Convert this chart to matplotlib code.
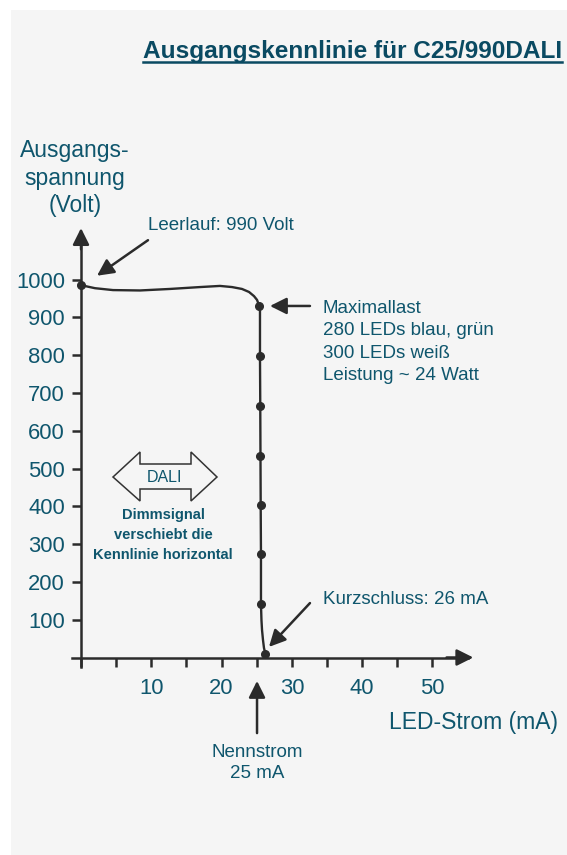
import matplotlib.pyplot as plt
from matplotlib.patches import Rectangle, Polygon
from matplotlib.lines import Line2D

# curve: LED current (mA) vs output voltage (V)
curve_I = [0, 1.99, 4.55, 8.39, 12.66, 16.93, 19.77, 21.48, 22.9, 23.9, 24.61,
           25.04, 25.32, 25.46, 25.46, 25.5, 25.53, 25.56, 25.6, 25.6, 25.67,
           25.75, 25.89, 26.03, 26.24]
curve_V = [985, 977, 972, 971, 975, 980, 983, 980, 975, 967, 956,
           946, 932, 919, 798, 665, 533, 403, 274, 142, 99,
           73, 46, 25, 9]
dot_I = [0, 25.35, 25.46, 25.5, 25.53, 25.56, 25.6, 25.6, 26.24]
dot_V = [985, 930, 797, 665, 533, 403, 274, 142, 9]

x_ticks = list(range(0, 55, 5))
x_labels = [str(t) if t % 10 == 0 and t > 0 else "" for t in x_ticks]
y_ticks = list(range(100, 1100, 100))
y_labels = [str(t) for t in y_ticks]

W, H = 567, 855
TEAL = "#0f566d"
TITLE = "#0a4a62"
AX = "#2b2b2b"
SANS = ["Liberation Sans", "DejaVu Sans"]

# pixel mapping of the axes (origin at 81,657.5)
x0, kx = 81, 7.03
y0, ky = 657.5, 0.378

fig = plt.figure(figsize=(W / 100, H / 100), dpi=100)
fig.patch.set_facecolor("white")
fig.add_artist(Rectangle((11 / W, 0), 1, 1 - 10 / H, transform=fig.transFigure,
                         facecolor="#f5f5f5", edgecolor="none", zorder=-5))

ax = fig.add_axes([0, 0, 1, 1])
ax.set_facecolor("none")
ax.set_xlim(-x0 / kx, (W - x0) / kx)
ax.set_ylim(-(H - y0) / ky, y0 / ky)
for s in ["top", "right"]:
    ax.spines[s].set_visible(False)
for s in ["left", "bottom"]:
    ax.spines[s].set_position(("data", 0))
    ax.spines[s].set_linewidth(1.8)
    ax.spines[s].set_color(AX)
ax.spines["left"].set_bounds(-25, 1120)
ax.spines["bottom"].set_bounds(-1.3, 55)

ax.set_xticks(x_ticks, x_labels)
ax.set_yticks(y_ticks, y_labels)
ax.tick_params(axis="x", direction="out", length=6.5, width=1.8, pad=8,
               labelsize=15.8, labelcolor=TEAL, color=AX)
ax.tick_params(axis="y", direction="out", length=6.5, width=1.8, pad=5,
               labelsize=15.8, labelcolor=TEAL, color=AX)
for lab in ax.get_xticklabels() + ax.get_yticklabels():
    lab.set_family(SANS)

head = dict(arrowstyle="-|>,head_length=0.5,head_width=0.25", mutation_scale=20,
            lw=1.8, color=AX, shrinkA=0, shrinkB=0)
ax.annotate("", xy=(55.8, 0), xytext=(52, 0), arrowprops=head)
ax.annotate("", xy=(0, 1136), xytext=(0, 1080), arrowprops=head)

ax.plot(curve_I, curve_V, color=AX, lw=1.7, solid_capstyle="round", zorder=3)
ax.plot(dot_I, dot_V, "o", ms=5.5, color=AX, zorder=4)

# pointer arrows
ax.annotate("", xy=(2.28, 1010), xytext=(9.53, 1104), arrowprops=head)
ax.annotate("", xy=(26.88, 930), xytext=(32.57, 930), arrowprops=head)
ax.annotate("", xy=(26.74, 28), xytext=(32.57, 144), arrowprops=head)
ax.annotate("", xy=(25.04, -62), xytext=(25.04, -200), arrowprops=head)


def txt(x, y, s, **kw):
    kw.setdefault("family", SANS)
    kw.setdefault("color", TEAL)
    kw.setdefault("va", "center")
    return fig.text(x / W, 1 - y / H, s, **kw)


t = txt(562, 58, "Ausgangskennlinie für C25/990DALI", ha="right", va="baseline",
        size=17.6, weight="bold", color=TITLE)
fig.canvas.draw()
bb = t.get_window_extent(fig.canvas.get_renderer())
fig.add_artist(Line2D([bb.x0 / W, bb.x1 / W], [1 - 62.5 / H] * 2, lw=1.8,
                      color=TITLE, transform=fig.transFigure))

txt(75, 178, "Ausgangs-\nspannung\n(Volt)", ha="center", size=16.5,
    linespacing=1.24, multialignment="center")
txt(558, 723, "LED-Strom (mA)", ha="right", size=16.5)
txt(148, 225, "Leerlauf: 990 Volt", ha="left", size=13.5)
txt(323, 342, "Maximallast\n280 LEDs blau, grün\n300 LEDs weiß\nLeistung ~ 24 Watt",
    ha="left", size=13.5, linespacing=1.39)
txt(323, 599, "Kurzschluss: 26 mA", ha="left", size=13.5)
txt(257, 763, "Nennstrom\n25 mA", ha="center", size=13.5, linespacing=1.33,
    multialignment="center")

# DALI double arrow
pts = [(113, 477), (140, 452), (140, 464), (191, 464), (191, 452), (217, 477),
       (191, 501), (191, 489), (140, 489), (140, 501)]
fig.add_artist(Polygon([(x / W, 1 - y / H) for x, y in pts], closed=True,
                       transform=fig.transFigure, facecolor="none",
                       edgecolor="#333333", lw=1.1))
txt(165, 477, "DALI", ha="center", size=11.5)
txt(163, 535, "Dimmsignal\nverschiebt die\nKennlinie horizontal", ha="center",
    size=10.5, weight="bold", linespacing=1.55, multialignment="center")

fig.savefig("out.png", dpi=100, facecolor=fig.get_facecolor())
